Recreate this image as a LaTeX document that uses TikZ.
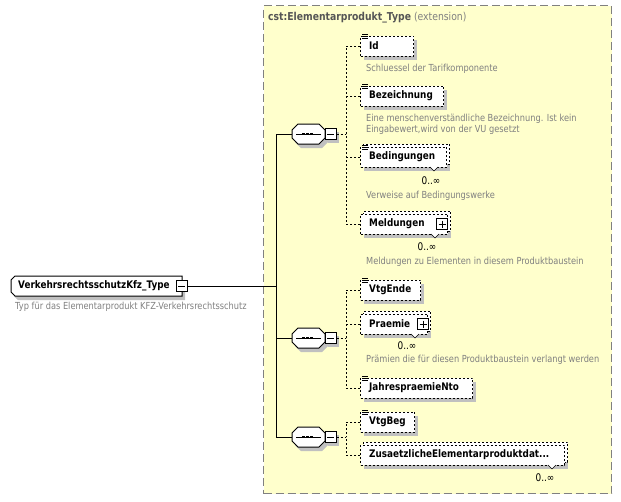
\documentclass[tikz,border=0pt]{standalone}
\usepackage{fontspec}
\setmainfont{DejaVu Sans}[FakeStretch=0.85]
\definecolor{bg}{RGB}{255,255,204}
\definecolor{frame}{RGB}{128,128,128}
\definecolor{desc}{RGB}{128,128,128}
\definecolor{shd}{RGB}{192,192,192}
\definecolor{titl}{RGB}{85,85,85}
\tikzset{
 lbl/.style={font=\bfseries\fontsize{10.4}{12}\selectfont, inner sep=0pt, anchor=west},
 dsc/.style={font=\fontsize{9.7}{11}\selectfont, text=desc, inner sep=0pt, anchor=west, align=left},
 mult/.style={font=\fontsize{10.5}{12}\selectfont, inner sep=0pt},
 elbox/.style={draw, dash pattern=on 2pt off 2pt, line width=1pt, fill=white, inner sep=0pt, minimum height=20pt, anchor=west},
 dcon/.style={dash pattern=on 2pt off 2pt, line width=1pt},
 con/.style={line width=1pt},
 sq/.style={draw, fill=white, minimum size=11pt, inner sep=0pt, line width=1pt},
 ghost/.style={inner sep=0pt, minimum width=33pt, minimum height=20pt},
}
\newcommand\mkel[4]{% name, cy, width, label
 \fill[shd] (364,#2-6) rectangle (364+#3,#2+14);
 \node[elbox, minimum width=#3pt] (#1) at (360,#2) {};
 \node[lbl] (#1t) at (369,#2) {#4};
}
\newcommand\mkmel[4]{% multiple element
 \fill[shd] (364,#2-6) rectangle (364+#3,#2+14);
 \node[elbox, minimum width=#3pt] (#1b) at (363,#2-3) {};
 \node[elbox, minimum width=#3pt] (#1) at (360,#2) {};
 \filldraw[fill=white, line width=0.6pt] (360+#3-16,#2+10) -- (360+#3-12,#2+14) -- (360+#3-8,#2+10);
 \node[lbl] (#1t) at (369,#2) {#4};
}
\newcommand\docicon[1]{%
 \draw[line width=0.8pt] ([xshift=2pt,yshift=1pt]#1.north west) -- ++(6,0);
 \draw[line width=0.8pt] ([xshift=2pt,yshift=-1pt]#1.north west) -- ++(6,0);
 \draw[line width=0.8pt] ([xshift=2pt,yshift=-3pt]#1.north west) -- ++(6,0);
}
\newcommand\mkminus[3]{% name, cx, cy
 \fill[shd] (#2-2.5,#3-2.5) rectangle (#2+8.5,#3+8.5);
 \node[sq] (#1) at (#2,#3) {};
 \draw[line width=1pt] (#2-3.5,#3) -- (#2+3.5,#3);
}
\newcommand\mkplus[3]{% name, cx, cy
 \node[sq] (#1) at (#2,#3) {};
 \draw[line width=1pt] (#2-3.5,#3) -- (#2+3.5,#3);
 \draw[line width=1pt] (#2,#3-3.5) -- (#2,#3+3.5);
}
\newcommand\octpath[2]{(#1-16.5,#2-4) -- (#1-10.5,#2-10) -- (#1+10.5,#2-10) -- (#1+16.5,#2-4) -- (#1+16.5,#2+4) -- (#1+10.5,#2+10) -- (#1-10.5,#2+10) -- (#1-16.5,#2+4) -- cycle}
\newcommand\mkseq[2]{% name, cy
 \fill[shd] \octpath{311.5}{#2+4};
 \filldraw[fill=white, line width=1pt] \octpath{308.5}{#2};
 \node[ghost] (#1) at (308.5,#2) {};
 \draw[line width=1pt] (296,#2) -- (321,#2);
 \fill (302.3,#2-1.4) rectangle ++(2.8,2.8);
 \fill (306.1,#2-1.4) rectangle ++(2.8,2.8);
 \fill (309.9,#2-1.4) rectangle ++(2.8,2.8);
 \mkminus{#1m}{330.5}{#2}
}
\begin{document}
\begin{tikzpicture}[x=1pt,y=-1pt]
\useasboundingbox (0,0) rectangle (621,501);
% extension frame
\node[draw=frame, fill=bg, line width=1.2pt, dash pattern=on 8pt off 4pt, anchor=north west, minimum width=348pt, minimum height=488pt, inner sep=0pt] (ext) at (263,5) {};
\node[anchor=west, inner sep=0pt, font=\fontsize{10.9}{12}\selectfont] (title) at (268,18) {\textcolor{titl}{\bfseries cst:Elementarprodukt\_Type} \textcolor{desc}{(extension)}};

% root
\fill[shd] (18,280) -- (185,280) -- (185,300) -- (18,300) -- (14,296) -- (14,284) -- cycle;
\filldraw[fill=white, line width=1pt] (15,276) -- (182,276) -- (182,296) -- (15,296) -- (11,292) -- (11,280) -- cycle;
\node[inner sep=0pt, minimum width=171pt, minimum height=20pt] (root) at (96.5,286) {};
\node[lbl] (roott) at (18,286) {VerkehrsrechtsschutzKfz\_Type};
\node[sq] (rootm) at (181.5,286) {};
\draw[line width=1pt] (178,286) -- (185,286);
\node[dsc] (rootd) at (15,307) {Typ für das Elementarprodukt KFZ-Verkehrsrechtsschutz};

% junctions
\coordinate (jr) at (276,286);
\coordinate (j1) at (276,134);
\coordinate (j2) at (276,338);
\coordinate (j3) at (276,437);

% sequences
\mkseq{s1}{134}
\mkseq{s2}{338}
\mkseq{s3}{437}

\draw[con] (rootm.east) -- (jr);
\draw[con] (j1) -- (j3);
\draw[con] (j1) -- (s1.west);
\draw[con] (j2) -- (s2.west);
\draw[con] (j3) -- (s3.west);

% group 1
\mkel{id}{46}{53}{Id}
\docicon{id}
\node[dsc] (idd) at (366,69) {Schluessel der Tarifkomponente};
\mkel{bez}{96}{83}{Bezeichnung}
\docicon{bez}
\node[dsc] (bezd) at (366,124.5) {Eine menschenverständliche Bezeichnung. Ist kein\\Eingabewert,wird von der VU gesetzt};
\mkmel{bed}{157}{86}{Bedingungen}
\docicon{bed}
\node[mult] (bedm) at (431,181) {0..∞};
\node[dsc] (bedd) at (366,196) {Verweise auf Bedingungswerke};
\mkmel{mel}{224}{87}{Meldungen}
\mkplus{melp}{442}{224}
\node[mult] (melm) at (427,247) {0..∞};
\node[dsc] (meld) at (366,262) {Meldungen zu Elementen in diesem Produktbaustein};

\coordinate (v1) at (346,134);
\draw[dcon] (s1m.east) -- (v1);
\draw[dcon] (id.west) -| (v1);
\draw[dcon] (mel.west) -| (v1);
\draw[dcon] (bez.west) -- (bez.west -| v1);
\draw[dcon] (bed.west) -- (bed.west -| v1);

% group 2
\mkel{vte}{290}{60}{VtgEnde}
\docicon{vte}
\mkmel{pra}{324}{67}{Praemie}
\mkplus{prap}{423}{324}
\node[mult] (pram) at (407,346) {0..∞};
\node[dsc] (prad) at (366,360) {Prämien die für diesen Produktbaustein verlangt werden};
\mkel{jpn}{388}{112}{JahrespraemieNto}
\docicon{jpn}

\coordinate (v2) at (346,338);
\draw[dcon] (s2m.east) -- (v2);
\draw[dcon] (vte.west) -| (v2);
\draw[dcon] (jpn.west) -| (v2);
\draw[dcon] (pra.west) -- (pra.west -| v2);

% group 3
\mkel{vtb}{422}{54}{VtgBeg}
\docicon{vtb}
\mkmel{zus}{455}{204}{ZusaetzlicheElementarproduktdat...}
\node[mult] (zusm) at (545,478) {0..∞};

\coordinate (v3) at (346,437);
\draw[dcon] (s3m.east) -- (v3);
\draw[dcon] (vtb.west) -| (v3);
\draw[dcon] (zus.west) -| (v3);
\end{tikzpicture}
\end{document}
